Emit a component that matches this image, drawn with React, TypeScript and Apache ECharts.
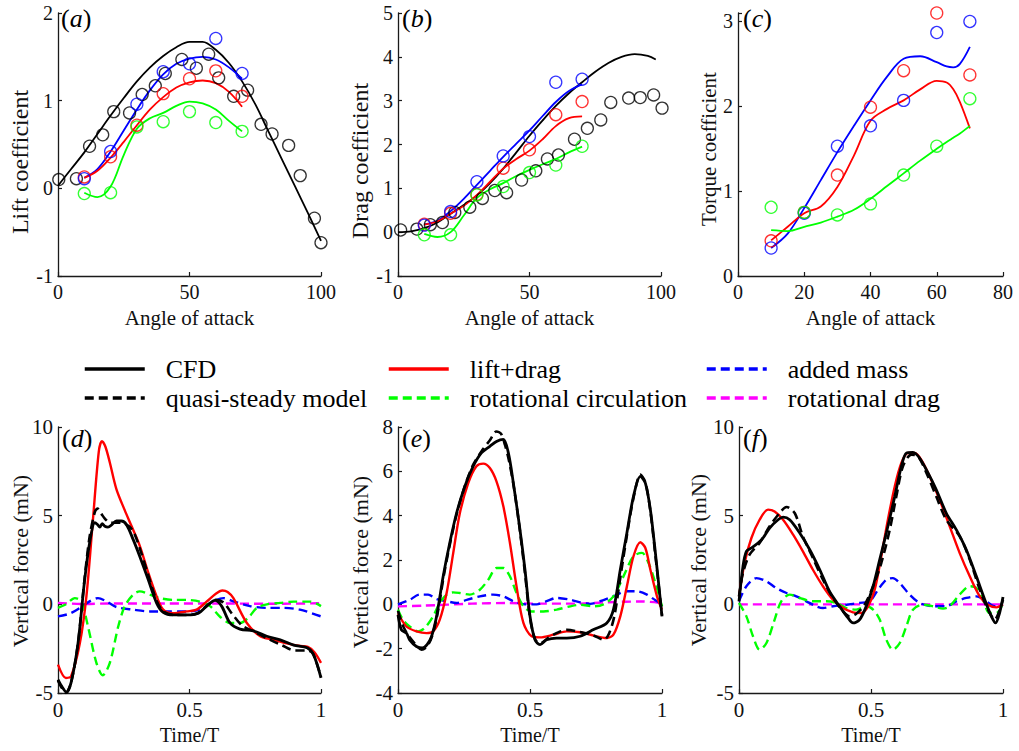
import React, { useEffect, useRef } from "react";
import * as echarts from "echarts";

// ---------------- Panel (a): lift coefficient ----------------
const aoaCases = [10, 20, 30, 40, 50, 60, 70];
const aBlackCircleX = [0.3, 7, 12, 17, 21.2, 27.2, 32, 37, 40.8, 47.1, 52.6, 57.3, 61.1, 66.8, 72.1, 77.2, 81.4, 87.7, 92.1, 97.5, 100];
const aBlackCircleY = [0.1, 0.11, 0.48, 0.61, 0.875, 0.86, 1.07, 1.17, 1.31, 1.47, 1.37, 1.53, 1.26, 1.05, 1.12, 0.73, 0.62, 0.49, 0.145, -0.34, -0.62];
const aBlueCircles = [0.11, 0.42, 0.96, 1.33, 1.42, 1.71, 1.31];
const aRedCircles = [0.13, 0.36, 0.72, 1.08, 1.25, 1.34, 1.05];
const aGreenCircles = [-0.06, -0.05, 0.7, 0.76, 0.875, 0.75, 0.65];
const fullAngles = [0, 5, 10, 15, 20, 25, 30, 35, 40, 45, 50, 55, 60, 65, 70, 75, 80, 85, 90, 95, 100];
const aBlackFit = [0.03, 0.22, 0.41, 0.62, 0.83, 1.03, 1.22, 1.38, 1.51, 1.61, 1.67, 1.67, 1.58, 1.43, 1.22, 0.96, 0.65, 0.34, 0.03, -0.28, -0.6];
const fitAngles = [10, 15, 20, 25, 30, 35, 40, 45, 50, 55, 60, 65, 70];
const aBlueFit = [0.12, 0.22, 0.42, 0.66, 0.9, 1.12, 1.3, 1.42, 1.48, 1.5, 1.47, 1.38, 1.25];
const aRedFit = [0.12, 0.2, 0.35, 0.53, 0.72, 0.9, 1.04, 1.15, 1.21, 1.23, 1.2, 1.1, 0.93];
const aGreenFit = [-0.05, -0.1, 0.02, 0.38, 0.68, 0.8, 0.86, 0.94, 0.99, 0.97, 0.9, 0.77, 0.65];

// ---------------- Panel (b): drag coefficient ----------------
const bBlackCircleX = [1, 7.2, 12.3, 16.9, 21.6, 27.3, 32.1, 36.8, 41.3, 47, 52.4, 56.8, 61, 67.1, 72, 77.1, 80.9, 87.7, 92.1, 97.2, 100.4];
const bBlackCircleY = [0.05, 0.07, 0.17, 0.22, 0.45, 0.57, 0.77, 0.95, 0.9, 1.19, 1.4, 1.67, 1.76, 2.12, 2.37, 2.56, 2.96, 3.06, 3.07, 3.13, 2.83];
const bBlueCircles = [0.16, 0.47, 1.15, 1.74, 2.18, 3.42, 3.49];
const bRedCircles = [0.18, 0.43, 0.86, 1.46, 1.88, 2.68, 2.98];
const bGreenCircles = [-0.06, -0.06, 0.85, 1.04, 1.36, 1.53, 1.96];
const bBlackFitX = [0, 5, 10, 15, 20, 25, 30, 35, 40, 45, 50, 55, 60, 65, 70, 75, 80, 85, 90, 95, 98];
const bBlackFit = [0, 0.02, 0.09, 0.22, 0.42, 0.62, 0.84, 1.12, 1.45, 1.82, 2.2, 2.55, 2.88, 3.17, 3.42, 3.66, 3.86, 4.0, 4.06, 4.02, 3.94];
const bBlueFit = [0.18, 0.26, 0.48, 0.76, 1.08, 1.4, 1.72, 2.02, 2.32, 2.65, 2.97, 3.22, 3.37];
const bRedFit = [0.17, 0.25, 0.42, 0.6, 0.85, 1.15, 1.45, 1.67, 1.86, 2.12, 2.42, 2.6, 2.64];
const bGreenFit = [-0.04, -0.11, 0.0, 0.38, 0.78, 0.98, 1.12, 1.28, 1.42, 1.55, 1.67, 1.82, 1.95];

// ---------------- Panel (c): torque coefficient ----------------
const cBlueCircles = [0.33, 0.74, 1.53, 1.77, 2.07, 2.87, 3.0];
const cRedCircles = [0.415, 0.75, 1.19, 1.99, 2.42, 3.1, 2.37];
const cGreenCircles = [0.81, 0.75, 0.72, 0.85, 1.19, 1.53, 2.09];
const cFitAngles = [10, 15, 20, 25, 30, 35, 40, 45, 50, 55, 60, 63, 65, 67, 70];
const cBlueFit = [0.33, 0.5, 0.8, 1.13, 1.46, 1.77, 2.07, 2.35, 2.56, 2.59, 2.52, 2.47, 2.46, 2.5, 2.7];
const cRedFit = [0.42, 0.58, 0.74, 0.82, 1.05, 1.42, 1.83, 1.97, 2.07, 2.2, 2.3, 2.28, 2.2, 2.05, 1.74];
const cGreenFit = [0.54, 0.53, 0.58, 0.63, 0.7, 0.78, 0.91, 1.06, 1.21, 1.36, 1.5, 1.58, 1.63, 1.68, 1.77];

// ---------------- Panel (d): vertical force ----------------
const dCFD = [[0, -4.25], [0.013, -4.6], [0.032, -4.95], [0.05, -4.4], [0.076, -2.2], [0.1, 1.2], [0.12, 3.45], [0.14, 4.6], [0.15, 4.5], [0.159, 4.35], [0.168, 4.55], [0.178, 4.4], [0.19, 4.35], [0.205, 4.5], [0.222, 4.7], [0.241, 4.7], [0.26, 4.5], [0.286, 3.65], [0.311, 2.7], [0.343, 1.4], [0.375, 0.07], [0.4, -0.45], [0.438, -0.6], [0.49, -0.6], [0.534, -0.5], [0.565, -0.1], [0.597, 0.22], [0.622, -0.1], [0.654, -1.05], [0.692, -1.4], [0.743, -1.5], [0.794, -1.8], [0.845, -2.0], [0.896, -2.3], [0.947, -2.45], [0.972, -2.85], [1, -4.15]];
const dQuasi = [[0, -4.3], [0.03, -5.0], [0.05, -4.4], [0.076, -2.2], [0.1, 1.3], [0.12, 3.8], [0.14, 5.2], [0.15, 5.4], [0.165, 5.1], [0.18, 4.8], [0.2, 4.6], [0.24, 4.6], [0.27, 4.4], [0.29, 4.0], [0.31, 3.2], [0.34, 1.8], [0.375, 0.2], [0.4, -0.4], [0.44, -0.6], [0.49, -0.6], [0.53, -0.5], [0.565, -0.1], [0.6, 0.25], [0.63, 0.1], [0.66, -0.5], [0.7, -1.2], [0.74, -1.5], [0.8, -1.95], [0.85, -2.3], [0.9, -2.6], [0.95, -2.6], [0.97, -2.8], [1, -4.1]];
const dLiftDrag = [[0, -3.4], [0.03, -4.15], [0.05, -4.05], [0.083, -2.2], [0.108, 0.45], [0.133, 4.8], [0.155, 8.6], [0.167, 9.2], [0.18, 8.9], [0.197, 8.0], [0.222, 6.5], [0.254, 5.3], [0.28, 4.4], [0.311, 3.3], [0.343, 1.8], [0.375, 0.45], [0.4, -0.3], [0.438, -0.5], [0.489, -0.4], [0.527, -0.3], [0.565, 0.15], [0.6, 0.6], [0.625, 0.78], [0.645, 0.7], [0.667, 0.35], [0.718, -1.05], [0.769, -1.8], [0.82, -2.0], [0.87, -2.2], [0.92, -2.35], [0.95, -2.4], [0.975, -2.7], [1, -3.3]];
const dRotCirc = [[0, -0.2], [0.03, 0.0], [0.064, 0.35], [0.089, 0.15], [0.114, -1.25], [0.146, -3.3], [0.17, -4.0], [0.197, -3.3], [0.229, -1.25], [0.254, -0.1], [0.286, 0.55], [0.311, 0.73], [0.349, 0.55], [0.388, 0.35], [0.438, 0.25], [0.489, 0.25], [0.54, 0.15], [0.578, -0.1], [0.616, -0.7], [0.654, -1.05], [0.692, -1.05], [0.724, -0.75], [0.756, -0.2], [0.794, 0.0], [0.845, 0.08], [0.896, 0.15], [0.96, 0.15], [1, -0.1]];
const dAddedMass = [[0, -0.68], [0.045, -0.52], [0.083, -0.2], [0.12, 0.17], [0.152, 0.35], [0.184, 0.17], [0.222, -0.15], [0.286, -0.3], [0.349, -0.4], [0.413, -0.4], [0.49, -0.4], [0.54, -0.3], [0.591, 0.17], [0.629, 0.35], [0.667, 0.17], [0.73, -0.1], [0.794, -0.2], [0.857, -0.2], [0.92, -0.3], [1, -0.68]];
const dRotDrag = [[0, 0.08], [0.1, 0.02], [0.2, 0.05], [0.4, 0.05], [0.6, 0.05], [0.8, 0.03], [1, 0.06]];

// ---------------- Panel (e): vertical force ----------------
const eCFD = [[0, -0.47], [0.013, -1.15], [0.032, -1.3], [0.044, -1.6], [0.07, -1.9], [0.092, -1.97], [0.11, -1.82], [0.127, -1.45], [0.146, -0.55], [0.171, 1.26], [0.196, 2.77], [0.222, 4.12], [0.253, 5.32], [0.285, 6.23], [0.316, 6.83], [0.348, 7.13], [0.373, 7.35], [0.399, 7.44], [0.418, 6.83], [0.437, 5.47], [0.462, 3.37], [0.481, 1.56], [0.5, -0.54], [0.519, -1.6], [0.538, -1.82], [0.563, -1.6], [0.601, -1.52], [0.639, -1.52], [0.69, -1.44], [0.741, -1.14], [0.791, -0.84], [0.816, -0.24], [0.842, 1.56], [0.867, 3.22], [0.892, 4.87], [0.918, 5.77], [0.937, 5.47], [0.956, 4.27], [0.975, 2.32], [1, -0.54]];
const eQuasi = [[0, -0.3], [0.02, -1.0], [0.045, -1.5], [0.07, -1.85], [0.089, -2.05], [0.11, -1.9], [0.13, -1.4], [0.15, -0.4], [0.175, 1.4], [0.2, 2.9], [0.225, 4.2], [0.255, 5.4], [0.285, 6.3], [0.316, 6.9], [0.348, 7.4], [0.373, 7.8], [0.39, 7.7], [0.405, 7.2], [0.42, 6.5], [0.44, 5.2], [0.462, 3.3], [0.481, 1.4], [0.5, -0.6], [0.52, -1.6], [0.54, -1.75], [0.57, -1.5], [0.6, -1.3], [0.64, -1.15], [0.69, -1.25], [0.74, -1.4], [0.78, -1.6], [0.8, -1.3], [0.82, -0.5], [0.842, 1.2], [0.867, 3.1], [0.892, 4.8], [0.918, 5.85], [0.937, 5.5], [0.956, 4.2], [0.975, 2.2], [1, -0.5]];
const eLiftDrag = [[0, -0.4], [0.032, -1.0], [0.07, -1.22], [0.108, -1.3], [0.133, -1.22], [0.158, -0.7], [0.184, 0.5], [0.209, 2.3], [0.234, 4.1], [0.266, 5.47], [0.297, 6.23], [0.323, 6.35], [0.348, 6.15], [0.373, 5.55], [0.399, 4.42], [0.424, 2.77], [0.449, 0.81], [0.475, -0.84], [0.506, -1.44], [0.538, -1.49], [0.589, -1.37], [0.639, -1.22], [0.69, -1.26], [0.741, -1.41], [0.791, -1.52], [0.816, -1.37], [0.842, -0.54], [0.867, 0.81], [0.892, 2.17], [0.918, 2.8], [0.937, 2.54], [0.956, 1.56], [0.981, 0.36], [1, -0.24]];
const eRotCirc = [[0, -0.24], [0.019, -0.7], [0.044, -1.0], [0.076, -1.22], [0.101, -1.07], [0.133, -0.54], [0.158, 0.06], [0.184, 0.44], [0.209, 0.54], [0.234, 0.51], [0.272, 0.44], [0.31, 0.66], [0.342, 1.11], [0.373, 1.64], [0.399, 1.64], [0.424, 1.26], [0.449, 0.51], [0.475, -0.09], [0.506, -0.32], [0.551, -0.32], [0.601, -0.24], [0.652, -0.09], [0.69, -0.02], [0.741, -0.09], [0.778, 0.0], [0.816, 0.36], [0.854, 1.26], [0.892, 2.17], [0.924, 2.32], [0.949, 1.86], [0.975, 0.96], [1, -0.09]];
const eAddedMass = [[0, 0.0], [0.044, 0.2], [0.082, 0.44], [0.114, 0.44], [0.146, 0.24], [0.184, 0.14], [0.222, 0.06], [0.26, 0.2], [0.31, 0.36], [0.36, 0.44], [0.399, 0.36], [0.437, 0.14], [0.481, 0.0], [0.525, 0.0], [0.563, 0.14], [0.601, 0.29], [0.652, 0.21], [0.69, 0.09], [0.728, 0.02], [0.766, 0.14], [0.816, 0.36], [0.867, 0.59], [0.905, 0.59], [0.943, 0.44], [0.975, 0.18], [1, 0.0]];
const eRotDrag = [[0, -0.09], [0.095, -0.06], [0.28, 0.03], [0.41, 0.06], [0.54, 0.03], [0.67, 0.03], [0.79, 0.09], [0.92, 0.13], [1, 0.06]];

// ---------------- Panel (f): vertical force ----------------
const fCFD = [[0, 0.17], [0.015, 2.14], [0.028, 2.99], [0.047, 3.18], [0.072, 3.46], [0.091, 3.74], [0.116, 4.3], [0.148, 4.77], [0.167, 4.92], [0.192, 4.77], [0.23, 4.02], [0.268, 3.08], [0.306, 1.95], [0.343, 0.73], [0.381, -0.11], [0.413, -0.77], [0.432, -1.05], [0.457, -0.86], [0.482, -0.11], [0.508, 1.02], [0.533, 2.52], [0.558, 4.02], [0.59, 6.09], [0.615, 7.78], [0.634, 8.53], [0.659, 8.57], [0.684, 8.25], [0.716, 7.41], [0.747, 6.47], [0.785, 5.15], [0.823, 4.21], [0.861, 3.08], [0.899, 1.58], [0.931, 0.26], [0.956, -0.68], [0.972, -1.05], [0.987, -0.49], [1, 0.41]];
const fQuasi = [[0, 0.45], [0.015, 1.77], [0.04, 2.8], [0.078, 3.46], [0.116, 4.4], [0.154, 5.15], [0.18, 5.49], [0.211, 5.15], [0.242, 3.83], [0.28, 2.61], [0.318, 1.39], [0.356, 0.36], [0.394, -0.4], [0.419, -0.68], [0.444, -0.53], [0.476, -0.02], [0.508, 1.02], [0.539, 2.33], [0.571, 4.21], [0.596, 6.09], [0.621, 7.78], [0.653, 8.44], [0.678, 8.35], [0.71, 7.41], [0.747, 6.09], [0.785, 4.77], [0.836, 3.83], [0.874, 2.52], [0.912, 0.83], [0.943, -0.3], [0.968, -0.86], [1, 0.26]];
const fLiftDrag = [[0, 0.45], [0.021, 2.33], [0.047, 3.74], [0.078, 4.77], [0.11, 5.34], [0.135, 5.24], [0.167, 4.77], [0.205, 3.93], [0.242, 2.99], [0.28, 1.95], [0.318, 1.02], [0.356, 0.26], [0.394, -0.21], [0.432, -0.45], [0.463, -0.49], [0.489, -0.11], [0.514, 0.83], [0.539, 2.71], [0.564, 4.77], [0.59, 6.65], [0.615, 7.97], [0.64, 8.53], [0.665, 8.53], [0.69, 8.16], [0.722, 7.22], [0.76, 5.9], [0.798, 4.4], [0.836, 2.89], [0.874, 1.58], [0.912, 0.45], [0.943, -0.02], [0.975, -0.17], [1, 0.0]];
const fRotCirc = [[0, 0.08], [0.028, -0.68], [0.053, -1.8], [0.078, -2.56], [0.104, -2.18], [0.135, -0.86], [0.16, 0.17], [0.192, 0.55], [0.23, 0.36], [0.28, 0.17], [0.331, 0.17], [0.369, 0.08], [0.407, -0.21], [0.444, -0.3], [0.482, -0.11], [0.508, -0.3], [0.533, -0.86], [0.558, -1.99], [0.583, -2.56], [0.609, -2.18], [0.634, -1.24], [0.659, -0.3], [0.697, -0.02], [0.735, -0.11], [0.773, -0.24], [0.798, -0.11], [0.836, 0.55], [0.874, 1.02], [0.899, 0.92], [0.924, 0.26], [0.949, -0.49], [0.975, -0.49], [1, 0.08]];
const fAddedMass = [[0, 0.17], [0.028, 1.02], [0.066, 1.48], [0.104, 1.3], [0.141, 0.92], [0.18, 0.64], [0.217, 0.45], [0.255, 0.17], [0.293, -0.11], [0.318, -0.21], [0.356, -0.11], [0.407, -0.02], [0.457, 0.08], [0.495, 0.17], [0.527, 0.83], [0.558, 1.39], [0.583, 1.48], [0.609, 1.2], [0.646, 0.55], [0.684, 0.08], [0.735, -0.11], [0.785, -0.11], [0.823, 0.17], [0.861, 0.36], [0.899, 0.45], [0.937, 0.17], [0.968, -0.11], [1, 0.0]];
const fRotDrag = [[0, 0.0], [0.25, 0.0], [0.5, 0.0], [0.75, 0.0], [1, 0.0]];

// ---------------- Legend / text ----------------
const legendCol1 = ["CFD", "quasi-steady model"];
const legendCol2 = ["lift+drag", "rotational circulation"];
const legendCol3 = ["added mass", "rotational drag"];
const panelLetters = ["a", "b", "c", "d", "e", "f"];
const yNames = ["Lift coefficient", "Drag coefficient", "Torque coefficient", "Vertical force (mN)", "Vertical force (mN)", "Vertical force (mN)"];
const xNames = ["Angle of attack", "Angle of attack", "Angle of attack", "Time/T", "Time/T", "Time/T"];

const FONT = "'Liberation Serif', 'Times New Roman', serif";
const BLACK = "#000000";
const RED = "#ff0000";
const GREEN = "#00ff00";
const BLUE = "#0000ff";
const MAGENTA = "#ff00ff";
const DASH = [9, 5];

const zip = (xs: number[], ys: number[]) => xs.map((x, i) => [x, ys[i]]);

function buildOption() {
  const grids = [
    { left: 58, top: 13, width: 263, height: 263 },
    { left: 398, top: 13, width: 263, height: 263 },
    { left: 738, top: 13, width: 265, height: 263 },
    { left: 58, top: 427, width: 263, height: 266 },
    { left: 398, top: 427, width: 264, height: 266 },
    { left: 739, top: 427, width: 264, height: 266 },
  ];
  const xr = [
    [0, 100, 50], [0, 100, 50], [0, 80, 20], [0, 1, 0.5], [0, 1, 0.5], [0, 1, 0.5],
  ];
  const yr = [
    [-1, 2, 1], [-1, 5, 1], [0, 3.1, 1], [-5, 10, 5], [-4, 8, 2], [-5, 10, 5],
  ];
  const axisBase = (fs: number) => ({
    axisLine: { show: true, onZero: false, lineStyle: { color: "#1a1a1a", width: 1.3 } },
    axisTick: { show: true, inside: true, length: 4, lineStyle: { color: "#1a1a1a", width: 1.2 } },
    splitLine: { show: false },
    axisLabel: { color: "#111", fontFamily: FONT, fontSize: fs },
  });
  const xAxis = xr.map((r, i) => {
    const b: any = axisBase(i < 3 ? 20 : 21);
    b.axisLabel.margin = 6;
    return { type: "value", gridIndex: i, min: r[0], max: r[1], interval: r[2], ...b };
  });
  const yAxis = yr.map((r, i) => {
    const b: any = axisBase(i < 3 ? 20 : 21);
    b.axisLabel.margin = 5;
    if (i === 2) b.axisLabel.formatter = (v: number) => (v > 3.05 ? "" : String(v));
    return { type: "value", gridIndex: i, min: r[0], max: r[1], interval: r[2], ...b };
  });

  const series: any[] = [];
  const fit = (name: string, gi: number, data: number[][], color: string, width = 1.8) =>
    series.push({
      type: "line", name, xAxisIndex: gi, yAxisIndex: gi, data, smooth: 0.35,
      symbol: "none", showSymbol: false, lineStyle: { color, width }, itemStyle: { color }, z: 3,
    });
  const circ = (name: string, gi: number, data: number[][], color: string) =>
    series.push({
      type: "scatter", name, xAxisIndex: gi, yAxisIndex: gi, data, symbol: "circle", symbolSize: 12,
      clip: false, itemStyle: { color: "rgba(0,0,0,0)", borderColor: color, borderWidth: 1.3 }, z: 4,
    });
  const force = (name: string, gi: number, data: number[][], color: string, width: number, dashed: boolean, z: number) =>
    series.push({
      type: "line", name, xAxisIndex: gi, yAxisIndex: gi, data, smooth: 0.3,
      symbol: "none", showSymbol: false,
      lineStyle: { color, width, type: dashed ? DASH : "solid" }, itemStyle: { color }, z,
    });

  // (a)
  fit("a black fit", 0, zip(fullAngles, aBlackFit), BLACK);
  fit("a blue fit", 0, zip(fitAngles, aBlueFit), BLUE);
  fit("a red fit", 0, zip(fitAngles, aRedFit), RED);
  fit("a green fit", 0, zip(fitAngles, aGreenFit), GREEN);
  circ("a black data", 0, zip(aBlackCircleX, aBlackCircleY), BLACK);
  circ("a red data", 0, zip(aoaCases, aRedCircles), RED);
  circ("a blue data", 0, zip(aoaCases, aBlueCircles), BLUE);
  circ("a green data", 0, zip(aoaCases, aGreenCircles), GREEN);
  // (b)
  fit("b black fit", 1, zip(bBlackFitX, bBlackFit), BLACK);
  fit("b blue fit", 1, zip(fitAngles, bBlueFit), BLUE);
  fit("b red fit", 1, zip(fitAngles, bRedFit), RED);
  fit("b green fit", 1, zip(fitAngles, bGreenFit), GREEN);
  circ("b black data", 1, zip(bBlackCircleX, bBlackCircleY), BLACK);
  circ("b red data", 1, zip(aoaCases, bRedCircles), RED);
  circ("b blue data", 1, zip(aoaCases, bBlueCircles), BLUE);
  circ("b green data", 1, zip(aoaCases, bGreenCircles), GREEN);
  // (c)
  fit("c blue fit", 2, zip(cFitAngles, cBlueFit), BLUE);
  fit("c red fit", 2, zip(cFitAngles, cRedFit), RED);
  fit("c green fit", 2, zip(cFitAngles, cGreenFit), GREEN);
  circ("c red data", 2, zip(aoaCases, cRedCircles), RED);
  circ("c blue data", 2, zip(aoaCases, cBlueCircles), BLUE);
  circ("c green data", 2, zip(aoaCases, cGreenCircles), GREEN);

  const forcePanels = [
    [dCFD, dQuasi, dLiftDrag, dRotCirc, dAddedMass, dRotDrag],
    [eCFD, eQuasi, eLiftDrag, eRotCirc, eAddedMass, eRotDrag],
    [fCFD, fQuasi, fLiftDrag, fRotCirc, fAddedMass, fRotDrag],
  ];
  forcePanels.forEach((p, k) => {
    const gi = 3 + k;
    force("rotational drag", gi, p[5], MAGENTA, 2.4, true, 2);
    force("added mass", gi, p[4], BLUE, 2.4, true, 3);
    force("rotational circulation", gi, p[3], GREEN, 2.4, true, 4);
    force("lift+drag", gi, p[2], RED, 2.4, false, 5);
    force("quasi-steady model", gi, p[1], BLACK, 2.6, true, 6);
    force("CFD", gi, p[0], BLACK, 2.8, false, 7);
  });

  const legendBase = {
    orient: "vertical", itemWidth: 60, itemHeight: 14, itemGap: 3, selectedMode: false,
    top: 356, padding: 0, lineStyle: { width: 3.5 },
    itemStyle: { color: "rgba(0,0,0,0)", borderWidth: 0, opacity: 0 },
    textStyle: { fontFamily: FONT, fontSize: 26, color: "#000", padding: [0, 0, 0, 16] },
  };
  const legend = [
    { ...legendBase, left: 83, data: legendCol1 },
    { ...legendBase, left: 387, data: legendCol2 },
    { ...legendBase, left: 705, data: legendCol3 },
  ];

  const graphic: any[] = [];
  const letterPos = [[61, 5], [402, 5], [743, 5], [62, 425], [402, 425], [743, 425]];
  panelLetters.forEach((l, i) => {
    graphic.push({
      type: "text", x: letterPos[i][0], y: letterPos[i][1], z: 100,
      style: {
        text: `{p|(}{i|${l}}{p|)}`, verticalAlign: "top",
        rich: {
          p: { fontFamily: FONT, fontSize: 26, fill: "#000" },
          i: { fontFamily: FONT, fontSize: 26, fontStyle: "italic", fill: "#000" },
        },
      },
    });
  });
  const yNamePos = [[20, 162, 24], [360, 161, 24], [709, 149, 21], [20, 561, 22], [360, 562, 22], [698, 560, 22]];
  yNames.forEach((t, i) => {
    graphic.push({
      type: "text", x: yNamePos[i][0], y: yNamePos[i][1], rotation: Math.PI / 2,
      style: { text: t, fontFamily: FONT, fontSize: yNamePos[i][2], fill: "#111", align: "center", verticalAlign: "middle" },
    });
  });
  const xNamePos = [[189.5, 318, 21], [529.5, 318, 21], [870.5, 318, 21], [189.5, 735, 20], [530, 735, 20], [871, 735, 20]];
  xNames.forEach((t, i) => {
    graphic.push({
      type: "text", x: xNamePos[i][0], y: xNamePos[i][1],
      style: { text: t, fontFamily: FONT, fontSize: xNamePos[i][2], fill: "#111", align: "center", verticalAlign: "middle" },
    });
  });

  return {
    animation: false,
    backgroundColor: "#ffffff",
    grid: grids,
    xAxis,
    yAxis,
    series,
    legend,
    graphic,
  };
}

export default function App() {
  const ref = useRef<HTMLDivElement>(null);
  useEffect(() => {
    if (!ref.current) return;
    const chart = echarts.init(ref.current, undefined, { renderer: "svg" });
    chart.setOption(buildOption() as any);
    return () => chart.dispose();
  }, []);
  return (
    <div
      ref={ref}
      style={{ position: "fixed", left: 0, top: 0, width: 1019, height: 751, background: "#fff" }}
    />
  );
}
